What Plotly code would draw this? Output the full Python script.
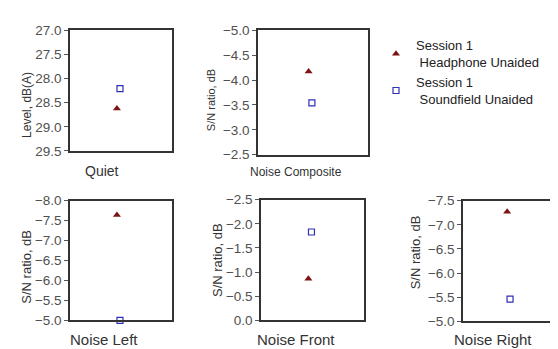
import plotly.graph_objects as go

W, H = 558, 349

# ---------------- data ----------------
panels = ["Quiet", "Noise Composite", "Noise Left", "Noise Front", "Noise Right"]
headphone_unaided = [28.62, -4.17, -7.64, -0.86, -7.27]
soundfield_unaided = [28.21, -3.54, -5.00, -1.83, -5.46]
y_titles = ["Level, dB(A)", "S/N ratio, dB", "S/N ratio, dB", "S/N ratio, dB", "S/N ratio, dB"]
y_top = [27.0, -5.0, -8.0, -2.5, -7.5]
y_bottom = [29.5, -2.5, -5.0, 0.0, -5.0]
series_names = ["Session 1<br> Headphone Unaided", "Session 1<br> Soundfield Unaided"]

# ---------------- layout (pixel boxes) ----------------
boxes = [(62, 164, 16, 142), (250, 360, 16, 146), (62, 164, 194, 319),
         (253, 356, 193, 319), (455, 551, 194, 320)]
xtitle_pos = [(94, 163, 14), (288, 164, 12), (96, 339, 15), (288, 339, 15), (485, 339, 15)]
ytitle_pos = [(19, 94, 12), (203, 89, 11), (19, 263, 13), (210, 256, 13), (407, 248, 13)]
offsets = {"hp": -0.08, "sf": -0.02}

FONT = "Liberation Sans, Arial, sans-serif"
HP_COLOR = "#7d1414"
SF_COLOR = "#2f2fb4"

fig = go.Figure()
layout = dict(width=W, height=H, margin=dict(l=0, r=0, t=0, b=0),
              paper_bgcolor="white", plot_bgcolor="white",
              font=dict(family=FONT, color="#333"), annotations=[])

for i, name in enumerate(panels):
    k = "" if i == 0 else str(i + 1)
    x0, x1, y0, y1 = boxes[i]
    layout["xaxis" + k] = dict(
        domain=[x0 / W, x1 / W], range=[-1, 1], showticklabels=False, ticks="",
        showgrid=False, zeroline=False, showline=True, linecolor="#333",
        linewidth=1.5, mirror=True, fixedrange=True, anchor="y" + k)
    layout["yaxis" + k] = dict(
        domain=[1 - y1 / H, 1 - y0 / H], range=[y_bottom[i], y_top[i]],
        dtick=0.5, tick0=0, tickformat=".1f", ticks="outside", ticklen=4,
        tickcolor="#555", tickfont=dict(size=13.5, color="#505050", family=FONT),
        showgrid=False, zeroline=False, showline=True, linecolor="#333",
        linewidth=1.5, mirror=(i != 4), anchor="x" + k)

    fig.add_trace(go.Scatter(
        x=[offsets["hp"]], y=[headphone_unaided[i]], mode="markers",
        marker=dict(symbol="triangle-up", size=7, color=HP_COLOR),
        name=series_names[0], legendgroup="hp", showlegend=(i == 0),
        xaxis="x" + k, yaxis="y" + k, cliponaxis=False))
    fig.add_trace(go.Scatter(
        x=[offsets["sf"]], y=[soundfield_unaided[i]], mode="markers",
        marker=dict(symbol="square-open", size=6, color=SF_COLOR, line=dict(width=1.2)),
        name=series_names[1], legendgroup="sf", showlegend=(i == 0),
        xaxis="x" + k, yaxis="y" + k, cliponaxis=False))

    tx, ty, ts = xtitle_pos[i]
    layout["annotations"].append(dict(text=name, x=tx / W, y=1 - ty / H, xref="paper", yref="paper",
                                      showarrow=False, font=dict(size=ts, color="#333"),
                                      xanchor="center", yanchor="middle"))
    ax, ay, asz = ytitle_pos[i]
    layout["annotations"].append(dict(text=y_titles[i], x=ax / W, y=1 - ay / H, xref="paper", yref="paper",
                                      showarrow=False, textangle=-90, font=dict(size=asz, color="#333"),
                                      xanchor="center", yanchor="middle"))

layout["legend"] = dict(x=368 / W, y=1 - 16 / H, xanchor="left", yanchor="top",
                        font=dict(size=13, color="#222", family=FONT),
                        bgcolor="rgba(0,0,0,0)", tracegroupgap=0)
layout["showlegend"] = True
fig.update_layout(**layout)

fig.write_html("out.html")
